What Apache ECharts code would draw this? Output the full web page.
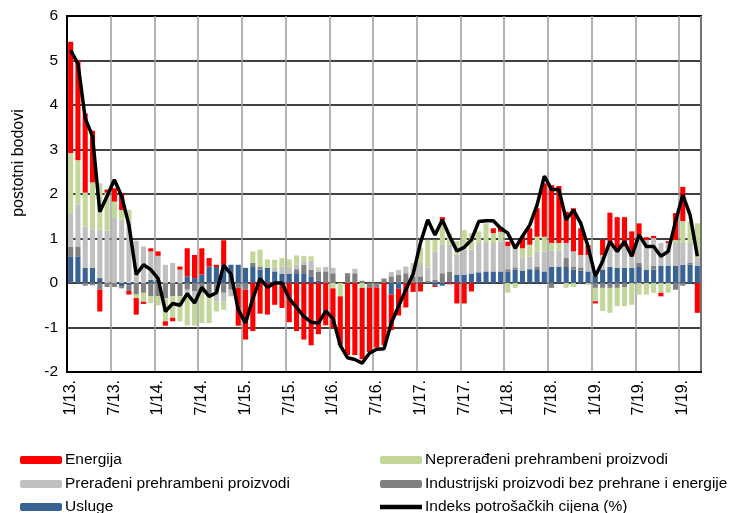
<!DOCTYPE html>
<html>
<head>
<meta charset="utf-8">
<style type="text/css">
body{margin:0; background:#fff}
#chart{width:730px; height:513px}
</style>
</head>
<body>
<div id="chart"></div>
<script src="https://cdn.jsdelivr.net/npm/echarts@6/dist/echarts.min.js"></script>
<script type="text/javascript">
// mjeseci 1/13 - 3/20
var months = [];
for (var k = 0; k < 87; k++) {
    months.push(((k % 12) + 1) + '/' + (13 + Math.floor(k / 12)) + '.');
}
var tickLabels = ['1/13.','7/13.','1/14.','7/14.','1/15.','7/15.','1/16.','7/16.','1/17.','7/17.','1/18.','7/18.','1/19.','7/19.','1/19.'];

var energija = [2.5,2.25,1.78,1.16,-0.49,0.07,0.3,0.38,-0.08,-0.37,
    -0.05,0.07,0.1,-0.1,-0.08,0.07,0.63,0.52,0.59,0.19,
    0.05,0.55,0,-0.85,-1.12,-1.08,-0.69,-0.71,-0.49,-0.56,
    -0.88,-1.08,-1.27,-1.4,-1.15,-0.95,-0.9,-1.1,-1.62,-1.62,
    -1.6,-1.45,-1.35,-1.4,-0.8,-0.6,-0.55,-0.2,-0.19,0,
    -0.03,0.06,-0.03,-0.46,-0.46,-0.19,0,0,0.11,0.11,
    0.1,0,0.26,0.37,0.64,1.2,1.3,1.28,0.7,0.97,
    0.6,0.22,-0.05,0.34,0.65,0.77,0.66,0.56,0.26,0.06,
    0.05,-0.08,0.04,0.6,0.77,0,-0.67];
var neprerađeni = [1.35,1.0,0.76,1.06,1.04,0.85,0.37,0.22,0.26,-0.08,
    -0.2,-0.15,-0.2,-0.52,-0.48,-0.56,-0.65,-0.67,-0.68,-0.6,
    -0.23,-0.19,0,0,0,0.26,0.38,0.19,0.18,0.19,
    0.19,0.21,0.12,0.1,0.05,0,-0.12,-0.3,0,0,
    -0.11,0,0,0,0,0,0,0.1,0.35,0.62,
    0.26,0.56,0.26,0.3,0.44,0.37,0.26,0.41,0.22,0.22,
    -0.22,-0.11,0.22,0.27,0.33,0.33,0.17,0.17,-0.11,-0.09,
    0,-0.04,-0.3,-0.52,-0.56,-0.41,-0.43,-0.49,-0.26,-0.26,
    -0.22,-0.22,-0.22,0.07,0.49,0.48,0.78];
var prerađeni = [0.75,0.94,0.93,0.86,1.09,1.18,1.46,1.42,1.38,0.95,
    0.82,0.64,0.54,0.41,0.45,0.3,-0.15,-0.1,0,0,
    -0.22,-0.19,-0.15,0,0,0,0,0,0.08,0.16,
    0.13,0.1,0.08,0.2,0.05,0.1,0.12,0,0,0.1,
    0,0,0,0,0.1,0.1,0.15,0.2,0.3,0.3,
    0.64,0.64,0.6,0.45,0.56,0.54,0.66,0.67,0.64,0.67,
    0.52,0.45,0.28,0.28,0.34,0.45,0.37,0.37,0.34,0.35,
    0.28,0.37,0,0.33,0.57,0.37,0.48,0.26,0.63,0.67,
    0.62,0.51,0.51,0.51,0.49,0.44,0.17];
var industrijski = [0.22,0.22,-0.06,-0.05,-0.15,-0.09,-0.09,-0.05,-0.13,-0.26,
    -0.22,-0.3,-0.3,-0.34,-0.3,-0.3,-0.15,-0.19,-0.22,-0.3,
    -0.19,-0.22,-0.15,-0.11,-0.15,0.09,0.07,0,0,0,
    0,0.09,0.19,0.15,0.2,0.26,0.22,0,0.22,0.22,
    0.05,-0.1,-0.1,0.1,0.15,0.19,0.22,0.15,0.12,0.05,
    0.07,0.22,0.22,0,0,0,0,0,0,0,
    0.05,0.05,0,0,0.06,0,-0.11,0,0.2,0.06,
    0.07,0,-0.11,-0.11,-0.11,-0.11,-0.09,0,0.09,0,
    0.09,0,0,-0.15,-0.06,0.05,0];
var usluge = [0.6,0.6,0.34,0.34,0.11,0,0,-0.07,-0.05,0,
    0,0.07,0.07,0,0,0,0.15,0.11,0.19,0.37,
    0.36,0.41,0.41,0.41,0.34,0.36,0.3,0.34,0.26,0.21,
    0.21,0.22,0.22,0.15,0.05,0,0,0,0,0,
    0,0,0,0,-0.26,-0.13,0,0,0.03,0,
    -0.06,-0.06,0.04,0.19,0.19,0.21,0.24,0.26,0.26,0.26,
    0.26,0.3,0.28,0.31,0.31,0.26,0.36,0.36,0.36,0.3,
    0.28,0.26,0.15,0.3,0.36,0.34,0.34,0.34,0.36,0.3,
    0.3,0.39,0.39,0.39,0.41,0.41,0.39];
var ipc = [5.23,4.93,3.7,3.3,1.6,1.95,2.32,1.95,1.3,0.19,
    0.41,0.3,0.1,-0.64,-0.46,-0.5,-0.24,-0.45,-0.1,-0.3,
    -0.22,0.4,0.2,-0.6,-0.9,-0.35,0.1,-0.1,0,0,
    -0.35,-0.55,-0.75,-0.88,-0.9,-0.63,-0.8,-1.4,-1.68,-1.72,
    -1.8,-1.58,-1.49,-1.48,-0.9,-0.52,-0.15,0.2,0.9,1.42,
    1.08,1.42,1.05,0.72,0.8,0.97,1.38,1.4,1.4,1.23,
    1.12,0.78,1.05,1.3,1.75,2.4,2.1,2.1,1.42,1.64,
    1.34,0.82,0.15,0.49,0.93,0.71,0.93,0.6,1.08,0.82,
    0.82,0.6,0.71,1.38,1.98,1.53,0.6];

var chart = echarts.init(document.getElementById('chart'));
var font = 'Liberation Sans, Arial, sans-serif';

function bar(name, data, color) {
    return {
        name: name,
        type: 'bar',
        stack: 'doprinos',
        data: data,
        barCategoryGap: '30%',
        itemStyle: {color: color},
        emphasis: {disabled: true}
    };
}

// jedna legenda po stavci, da stoje u dva stupca
function leg(item, left, top) {
    return {
        left: left,
        top: top,
        padding: 0,
        itemWidth: 42,
        itemHeight: 8,
        itemGap: 0,
        textStyle: {color: '#000', fontFamily: font, fontSize: 15.5, padding: [0, 0, 0, -2]},
        data: [item]
    };
}

option = {
    animation: false,
    grid: {
        left: 67,
        right: 29,
        top: 16,
        bottom: 141,
        show: true,
        borderColor: '#000',
        borderWidth: 2
    },
    xAxis: {
        type: 'category',
        data: months,
        boundaryGap: true,
        axisLine: {onZero: false, lineStyle: {color: '#000', width: 2}},
        axisTick: {show: false, interval: 5},
        axisLabel: {
            interval: 5,
            rotate: 90,
            margin: 8,
            color: '#000',
            fontFamily: font,
            fontSize: 16,
            formatter: function (v, idx) { return tickLabels[Math.round(idx / 6)]; }
        },
        splitLine: {show: true, interval: 5, lineStyle: {color: '#9a9a9a', width: 1.5}}
    },
    yAxis: {
        type: 'value',
        min: -2,
        max: 6,
        interval: 1,
        axisLine: {show: true, lineStyle: {color: '#000', width: 2}},
        axisTick: {show: false},
        axisLabel: {color: '#000', fontFamily: font, fontSize: 15.5, margin: 9},
        splitLine: {lineStyle: {color: '#000', width: 1.5}}
    },
    legend: [
        leg('Energija', 20, 452),
        leg('Prerađeni prehrambeni proizvodi', 20, 476),
        leg('Usluge', 20, 499),
        leg('Neprerađeni prehrambeni proizvodi', 380, 452),
        leg('Industrijski proizvodi bez prehrane i energije', 380, 476),
        leg({name: 'Indeks potrošačkih cijena (%)', icon: 'path://M0,0 L42,0 L42,4.5 L0,4.5 Z'}, 380, 499)
    ],
    graphic: [{
        type: 'text',
        x: 19,
        y: 163,
        rotation: Math.PI / 2,
        style: {
            text: 'postotni bodovi',
            fill: '#000',
            font: '16px Liberation Sans, Arial, sans-serif',
            align: 'center',
            verticalAlign: 'middle'
        }
    }],
    series: [
        bar('Usluge', usluge, '#3a6395'),
        bar('Industrijski proizvodi bez prehrane i energije', industrijski, '#808080'),
        bar('Prerađeni prehrambeni proizvodi', prerađeni, '#c0c0c0'),
        bar('Neprerađeni prehrambeni proizvodi', neprerađeni, '#c4d79b'),
        bar('Energija', energija, '#ff0000'),
        {
            name: 'Indeks potrošačkih cijena (%)',
            type: 'line',
            data: ipc,
            symbol: 'none',
            z: 5,
            lineStyle: {color: '#000', width: 3.5},
            itemStyle: {color: '#000'},
            emphasis: {disabled: true}
        }
    ]
};
chart.setOption(option);
</script>
</body>
</html>
